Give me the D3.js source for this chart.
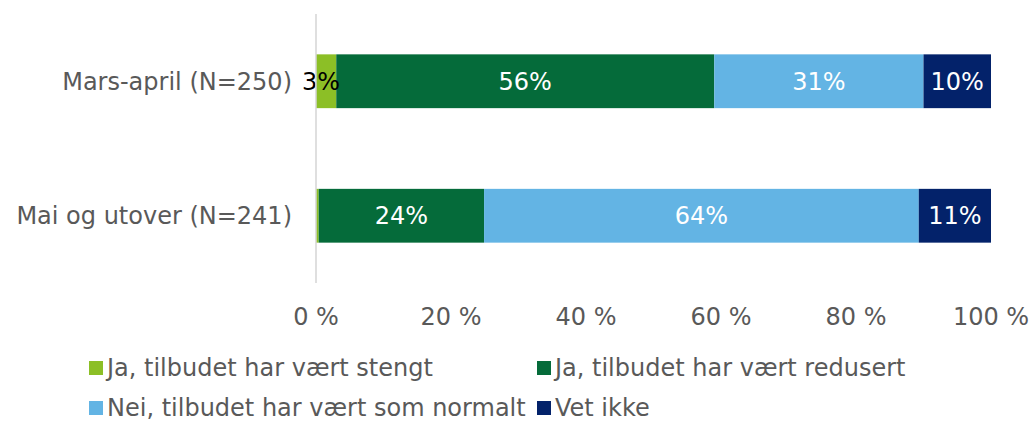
<!DOCTYPE html>
<html>
<head>
<meta charset="utf-8">
<script src="https://cdn.jsdelivr.net/npm/d3@7"></script>
<style>
  body { margin: 0; background: #fff; }
  text { font-family: "DejaVu Sans", Verdana, sans-serif; }
</style>
</head>
<body>
<svg width="1033" height="422"></svg>
<script>
var categories = ["Mars-april (N=250)", "Mai og utover (N=241)"];
var seriesNames = ["Ja, tilbudet har vært stengt", "Ja, tilbudet har vært redusert",
                   "Nei, tilbudet har vært som normalt", "Vet ikke"];
var stengt   = [3, 0.4];
var redusert = [56, 24.5];
var normalt  = [31, 64.4];
var vetIkke  = [10, 10.7];
var labelsStengt   = ["3%", ""];
var labelsRedusert = ["56%", "24%"];
var labelsNormalt  = ["31%", "64%"];
var labelsVetIkke  = ["10%", "11%"];
var ticks = [0, 20, 40, 60, 80, 100];
var colors = ["#8cbf26", "#056b3a", "#63b4e4", "#03226a"];

var svg = d3.select("svg"),
    margin = {top: 14, right: 42, bottom: 139, left: 316},
    width = 1033 - margin.left - margin.right,
    height = 422 - margin.top - margin.bottom,
    g = svg.append("g").attr("transform", "translate(" + margin.left + "," + margin.top + ")");

var data = categories.map(function(c, i) {
  return {cat: c, stengt: stengt[i], redusert: redusert[i], normalt: normalt[i], vet: vetIkke[i]};
});
var keys = ["stengt", "redusert", "normalt", "vet"];
var labels = [labelsStengt, labelsRedusert, labelsNormalt, labelsVetIkke];

var stack = d3.stack().keys(keys).offset(d3.stackOffsetExpand);
var layers = stack(data);

var x = d3.scaleLinear().domain([0, 1]).range([0, 675]);
var y = d3.scaleBand().domain(categories).range([0, height]).paddingInner(0.6).paddingOuter(0.3);

// bars
var layer = g.selectAll(".layer")
  .data(layers)
  .enter().append("g")
  .attr("class", "layer")
  .attr("fill", function(d, i) { return colors[i]; });

layer.selectAll("rect")
  .data(function(d) { return d; })
  .enter().append("rect")
  .attr("x", function(d) { return x(d[0]); })
  .attr("y", function(d) { return y(d.data.cat); })
  .attr("width", function(d) { return x(d[1]) - x(d[0]); })
  .attr("height", y.bandwidth());

// value labels
layers.forEach(function(l, k) {
  g.selectAll(".lbl" + k)
    .data(l)
    .enter().append("text")
    .attr("x", function(d) { return (x(d[0]) + x(d[1])) / 2 - (k == 0 ? 5 : 0); })
    .attr("y", function(d) { return y(d.data.cat) + y.bandwidth() / 2; })
    .attr("dy", "0.36em")
    .attr("text-anchor", "middle")
    .style("font-size", "24px")
    .attr("fill", k == 0 ? "#000" : "#fff")
    .text(function(d, i) { return labels[k][i]; });
});

// vertical axis line
g.append("line")
  .attr("x1", 0).attr("x2", 0)
  .attr("y1", 0).attr("y2", height)
  .attr("stroke", "#d4d4d4")
  .attr("stroke-width", 1.5);

// category labels
g.selectAll(".cat")
  .data(categories)
  .enter().append("text")
  .attr("x", -24)
  .attr("y", function(d) { return y(d) + y.bandwidth() / 2; })
  .attr("dy", "0.36em")
  .attr("text-anchor", "end")
  .attr("fill", "#595959")
  .style("font-size", "24px")
  .text(function(d) { return d; });

// x tick labels
g.selectAll(".tick")
  .data(ticks)
  .enter().append("text")
  .attr("x", function(d) { return x(d / 100); })
  .attr("y", 311)
  .attr("text-anchor", "middle")
  .attr("fill", "#595959")
  .style("font-size", "24px")
  .text(function(d) { return d + " %"; });

// legend
var legendPos = [[89, 376], [537, 376], [89, 416], [537, 416]];
var legend = svg.selectAll(".legend")
  .data(seriesNames)
  .enter().append("g")
  .attr("transform", function(d, i) { return "translate(" + legendPos[i][0] + "," + legendPos[i][1] + ")"; });

legend.append("rect")
  .attr("x", 0).attr("y", -15)
  .attr("width", 14).attr("height", 14)
  .attr("fill", function(d, i) { return colors[i]; });

legend.append("text")
  .attr("x", 18)
  .attr("y", 0)
  .attr("fill", "#595959")
  .style("font-size", "24px")
  .text(function(d) { return d; });
</script>
</body>
</html>
